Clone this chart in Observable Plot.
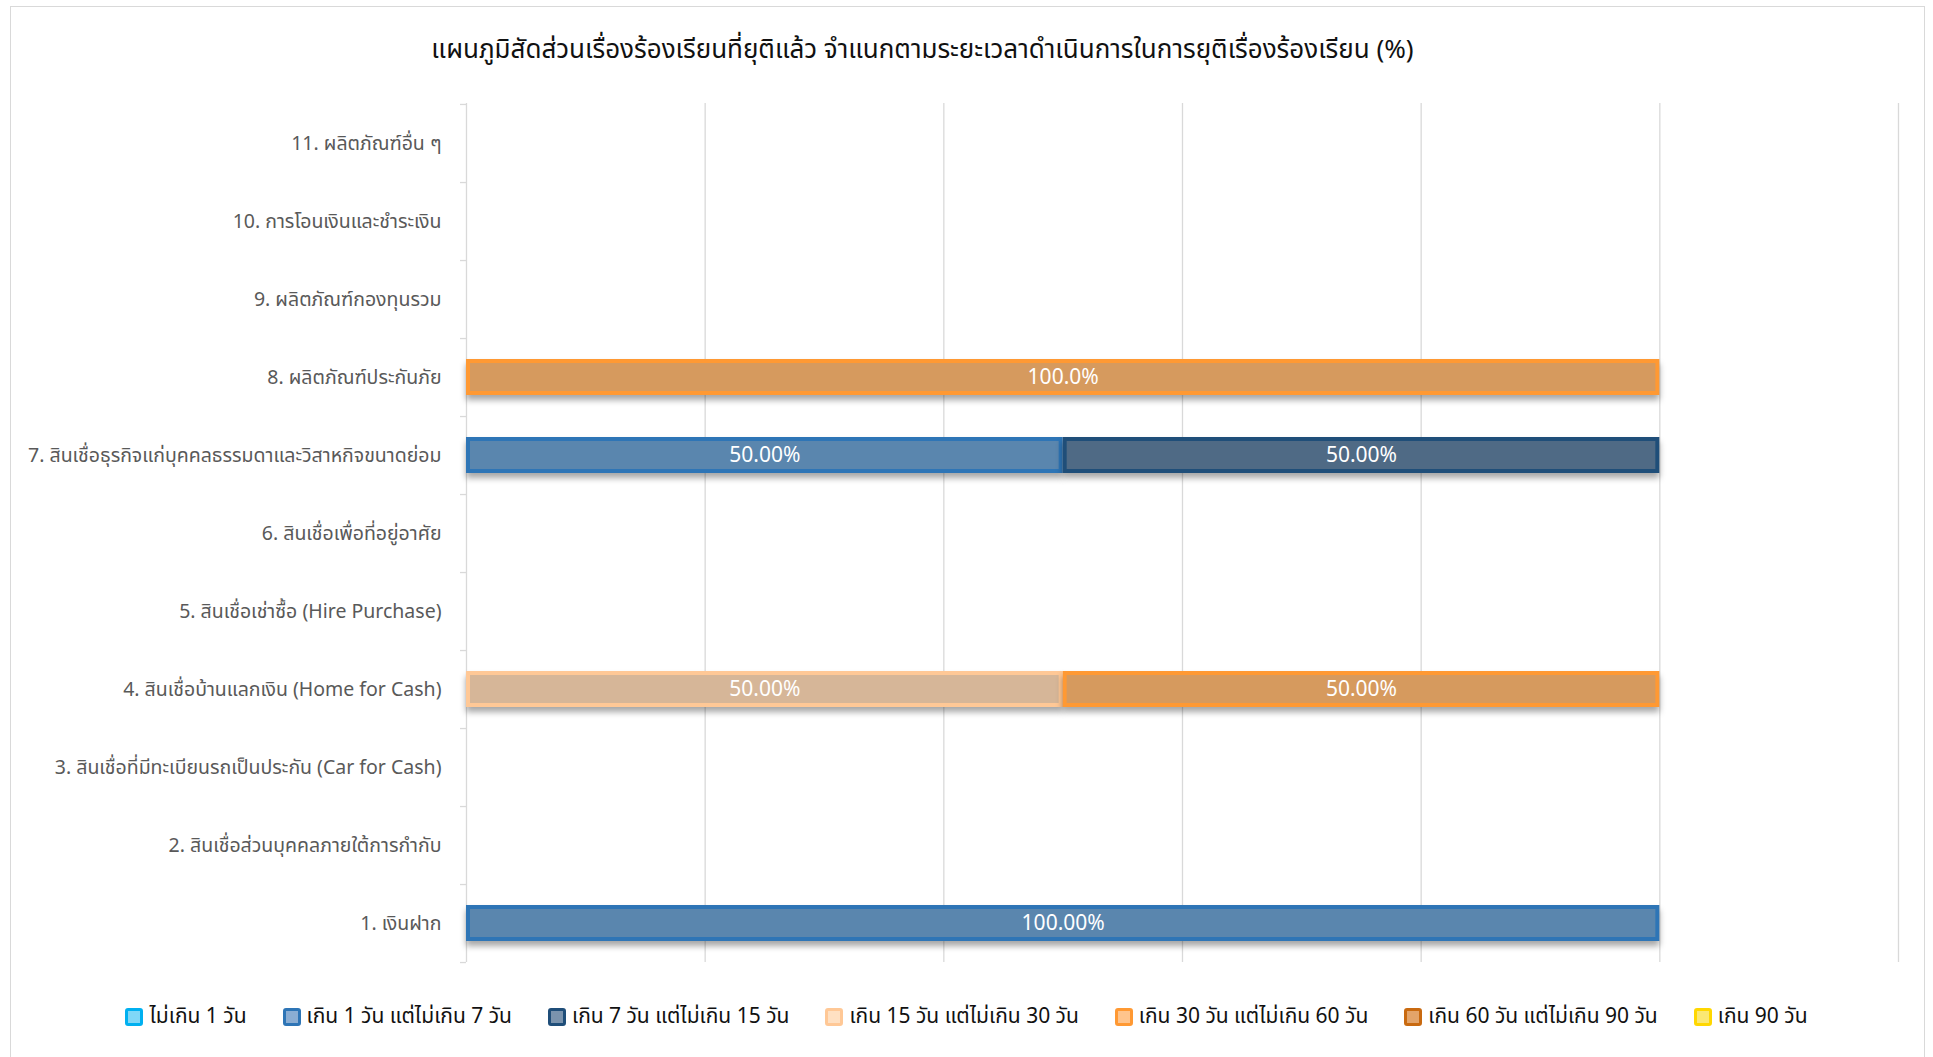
<!DOCTYPE html>
<html>
<head>
<meta charset="utf-8">
<script src="https://cdn.jsdelivr.net/npm/d3@7"></script>
<script src="https://cdn.jsdelivr.net/npm/@observablehq/plot@0.6"></script>
<style>
  html, body { margin: 0; padding: 0; background: #fff; }
  body { width: 1933px; height: 1057px; position: relative; overflow: hidden;
         font-family: "Noto Sans Thai", "Noto Sans", "DejaVu Sans", sans-serif; }
  #frame { position: absolute; left: 10px; top: 6px; width: 1915px; height: 1100px;
           border: 1.5px solid #d9d9d9; box-sizing: border-box; }
  #title { position: absolute; left: 0; width: 1845px; top: 31px; text-align: center;
           font-size: 26px; color: #111; line-height: 38px; }
  #chart { position: absolute; left: 0; top: 80px; }
  #chart g[aria-label="bar"] rect { filter: drop-shadow(0px 5px 3px rgba(0,0,0,0.35)); }
  #legend { position: absolute; left: 0; width: 1933px; top: 1001px; display: flex;
            justify-content: center; gap: 36px; font-size: 21px; color: #111; line-height: 32px; }
  .item { display: flex; align-items: center; gap: 6px; }
  .sw { width: 18px; height: 18px; border-radius: 3px; box-sizing: border-box; border: 3px solid; }
</style>
</head>
<body>
<div id="frame"></div>
<div id="title">แผนภูมิสัดส่วนเรื่องร้องเรียนที่ยุติแล้ว จำแนกตามระยะเวลาดำเนินการในการยุติเรื่องร้องเรียน (%)</div>
<div id="chart"></div>
<div id="legend"></div>
<script>
// ---- data ----
const categories = [
  "1. เงินฝาก",
  "2. สินเชื่อส่วนบุคคลภายใต้การกำกับ",
  "3. สินเชื่อที่มีทะเบียนรถเป็นประกัน (Car for Cash)",
  "4. สินเชื่อบ้านแลกเงิน (Home for Cash)",
  "5. สินเชื่อเช่าซื้อ (Hire Purchase)",
  "6. สินเชื่อเพื่อที่อยู่อาศัย",
  "7. สินเชื่อธุรกิจแก่บุคคลธรรมดาและวิสาหกิจขนาดย่อม",
  "8. ผลิตภัณฑ์ประกันภัย",
  "9. ผลิตภัณฑ์กองทุนรวม",
  "10. การโอนเงินและชำระเงิน",
  "11. ผลิตภัณฑ์อื่น ๆ"
];
const seriesNames = [
  "ไม่เกิน 1 วัน",
  "เกิน 1 วัน แต่ไม่เกิน 7 วัน",
  "เกิน 7 วัน แต่ไม่เกิน 15 วัน",
  "เกิน 15 วัน แต่ไม่เกิน 30 วัน",
  "เกิน 30 วัน แต่ไม่เกิน 60 วัน",
  "เกิน 60 วัน แต่ไม่เกิน 90 วัน",
  "เกิน 90 วัน"
];
// values per series, indexed like categories (1..11)
const upTo1Day   = [0, 0, 0, 0, 0, 0, 0, 0, 0, 0, 0];
const days1to7   = [100, 0, 0, 0, 0, 0, 50, 0, 0, 0, 0];
const days7to15  = [0, 0, 0, 0, 0, 0, 50, 0, 0, 0, 0];
const days15to30 = [0, 0, 0, 50, 0, 0, 0, 0, 0, 0, 0];
const days30to60 = [0, 0, 0, 50, 0, 0, 0, 100, 0, 0, 0];
const days60to90 = [0, 0, 0, 0, 0, 0, 0, 0, 0, 0, 0];
const over90     = [0, 0, 0, 0, 0, 0, 0, 0, 0, 0, 0];
const labelDecimals = [2, 2, 2, 2, 2, 2, 2, 1, 2, 2, 2];
const xTicks = [0, 20, 40, 60, 80, 100, 120];

const seriesValues = [upTo1Day, days1to7, days7to15, days15to30, days30to60, days60to90, over90];
const strokeColors = ["#00B0F0", "#2E75B6", "#1F4E79", "#FFC896", "#FF9933", "#C96A10", "#FFD700"];
const fillColors   = ["#5BBCE2", "#5A86AE", "#4F6A85", "#D6B698", "#D69A5E", "#C2793A", "#E6C84A"];
const legendInner  = ["#7FD7F7", "#8AADD3", "#7A93AD", "#FFE0C2", "#FFC48C", "#E3A46A", "#FBE873"];

const rows = [];
seriesNames.forEach((s, si) => {
  seriesValues[si].forEach((v, ci) => {
    if (v > 0) rows.push({
      category: categories[ci], series: s, si, value: v,
      label: v.toFixed(labelDecimals[ci]) + "%"
    });
  });
});

// ---- layout ----
const W = 1933, H = 900, mL = 466, mR = 35, mT = 23, mB = 18;
const step = (H - mT - mB) / categories.length;
const unit = (W - mL - mR) / (xTicks[xTicks.length - 1] - xTicks[0]);
const font = '"Noto Sans Thai", "Noto Sans", "DejaVu Sans", sans-serif';

const chart = Plot.plot({
  width: W, height: H,
  marginLeft: mL, marginRight: mR, marginTop: mT, marginBottom: mB,
  style: { fontFamily: font, fontSize: "19.5px", background: "transparent", overflow: "visible" },
  x: { domain: [xTicks[0], xTicks[xTicks.length - 1]], axis: null },
  y: { domain: categories.slice().reverse(), paddingInner: 0.54, paddingOuter: 0.27, label: null },
  color: { type: "identity" },
  marks: [
    Plot.gridX(xTicks, { stroke: "#d9d9d9", strokeOpacity: 1, strokeWidth: 1.3 }),
    Plot.axisY({ tickSize: 0, tickPadding: 25, fill: "#595959", fontSize: 19.5 }),
    Plot.ruleY(categories, { y: d => d, x1: -6 / unit, x2: 0, dy: step / 2, stroke: "#d9d9d9", strokeWidth: 1.3 }),
    Plot.ruleY([categories[categories.length - 1]], { y: d => d, x1: -6 / unit, x2: 0, dy: -step / 2, stroke: "#d9d9d9", strokeWidth: 1.3 }),
    Plot.barX(rows, Plot.stackX({
      x: "value", y: "category",
      fill: d => fillColors[d.si],
      stroke: d => strokeColors[d.si], strokeWidth: 4, inset: 2
    })),
    Plot.text(rows, Plot.stackX({
      x: "value", y: "category", text: "label",
      fill: "white", fontSize: 21
    }))
  ]
});
document.getElementById("chart").appendChild(chart);

// ---- legend ----
const legend = document.getElementById("legend");
seriesNames.forEach((s, i) => {
  const item = document.createElement("div");
  item.className = "item";
  const sw = document.createElement("div");
  sw.className = "sw";
  sw.style.borderColor = strokeColors[i];
  sw.style.background = legendInner[i];
  const t = document.createElement("span");
  t.textContent = s;
  item.appendChild(sw);
  item.appendChild(t);
  legend.appendChild(item);
});
</script>
</body>
</html>
